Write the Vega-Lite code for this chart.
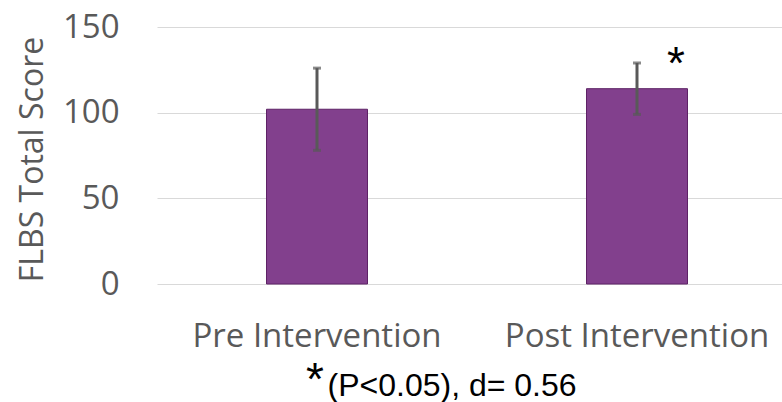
{
  "$schema": "https://vega.github.io/schema/vega-lite/v6.json",
  "autosize": "none",
  "padding": {"left": 157, "top": 27, "right": 0, "bottom": 118},
  "width": 640,
  "height": 257,
  "background": "white",
  "config": {"view": {"stroke": null}},
  "title": {
    "text": "*",
    "orient": "bottom",
    "anchor": "start",
    "frame": "group",
    "font": "Liberation Sans",
    "fontSize": 46,
    "fontWeight": "normal",
    "color": "black",
    "baseline": "alphabetic",
    "offset": 0,
    "dx": 149,
    "dy": -6
  },
  "data": {
    "values": [
      {"group": "Pre Intervention", "score": 102, "lo": 78, "hi": 126, "star": ""},
      {"group": "Post Intervention", "score": 114, "lo": 99, "hi": 129, "star": "*"}
    ]
  },
  "encoding": {
    "x": {
      "field": "group",
      "type": "nominal",
      "sort": null,
      "scale": {"paddingInner": 0, "paddingOuter": 0},
      "axis": {
        "domain": false,
        "ticks": false,
        "tickSize": 0,
        "labelAngle": 0,
        "labelLimit": 0,
        "labelFont": "Open Sans",
        "labelFontSize": 33,
        "labelColor": "#595959",
        "labelBaseline": "alphabetic",
        "labelPadding": 62,
        "title": "(P<0.05), d= 0.56",
        "titleFont": "Liberation Sans",
        "titleFontSize": 32,
        "titleFontWeight": "normal",
        "titleColor": "black",
        "titleAnchor": "start",
        "titleAlign": "left",
        "titleBaseline": "alphabetic",
        "titleX": 170,
        "titleY": 111
      }
    }
  },
  "layer": [
    {
      "mark": {"type": "bar", "size": 101, "color": "#82408D", "stroke": "#5E2266", "strokeWidth": 1},
      "encoding": {
        "y": {
          "field": "score",
          "type": "quantitative",
          "scale": {"domain": [0, 150], "nice": false},
          "axis": {
            "values": [0, 50, 100, 150],
            "domain": false,
            "ticks": false,
            "tickSize": 0,
            "grid": true,
            "gridColor": "#D9D9D9",
            "gridWidth": 1.2,
            "labelFont": "Open Sans",
            "labelFontSize": 33,
            "labelColor": "#595959",
            "labelPadding": 38,
            "title": "FLBS Total Score",
            "titleFont": "Open Sans",
            "titleFontSize": 32,
            "titleFontWeight": "normal",
            "titleColor": "#595959",
            "titleAngle": -90,
            "titleAlign": "center",
            "titleBaseline": "alphabetic",
            "titleX": -115,
            "titleY": 132
          }
        }
      }
    },
    {
      "mark": {"type": "rule", "color": "#595959", "strokeWidth": 3},
      "encoding": {"y": {"field": "lo", "type": "quantitative"}, "y2": {"field": "hi"}}
    },
    {
      "mark": {"type": "tick", "color": "#595959", "size": 8, "thickness": 3, "orient": "horizontal"},
      "encoding": {"y": {"field": "lo", "type": "quantitative"}}
    },
    {
      "mark": {"type": "tick", "color": "#595959", "size": 8, "thickness": 3, "orient": "horizontal"},
      "encoding": {"y": {"field": "hi", "type": "quantitative"}}
    },
    {
      "mark": {"type": "text", "font": "Liberation Sans", "fontSize": 46, "color": "black", "dx": 39, "dy": 16, "baseline": "alphabetic"},
      "encoding": {
        "y": {"field": "hi", "type": "quantitative"},
        "text": {"field": "star"}
      }
    }
  ]
}
